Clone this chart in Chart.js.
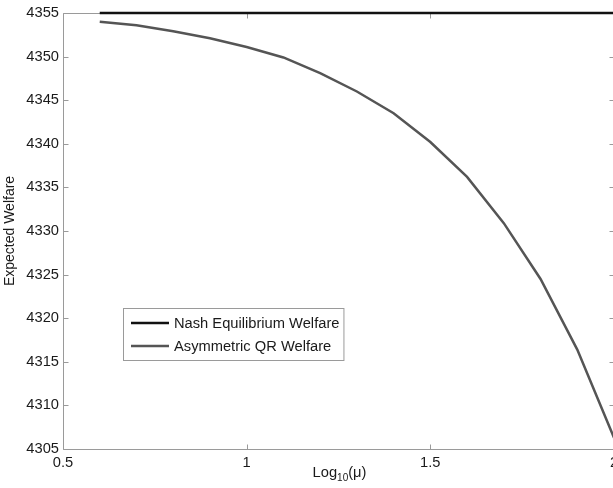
<!DOCTYPE html>
<html><head><meta charset="utf-8">
<script src="https://cdn.jsdelivr.net/npm/chart.js@4"></script>
<style>
html,body{margin:0;padding:0;background:#fff;overflow:hidden;width:613px;height:488px}
#wrap{position:relative;width:640px;height:488px}
canvas{display:block}
</style></head>
<body><div id="wrap"><canvas id="c" width="640" height="488"></canvas></div>
<script>
const logMu = [0.6, 0.7, 0.8, 0.9, 1.0, 1.1, 1.2, 1.3, 1.4, 1.5, 1.6, 1.7, 1.8, 1.9, 2.0];
const qrWelfare = [4354.0, 4353.6, 4352.9, 4352.1, 4351.1, 4349.9, 4348.1, 4346.0, 4343.5, 4340.2, 4336.2, 4330.9, 4324.5, 4316.4, 4306.3];
const nashX = [0.6, 2.0];
const nashWelfare = [4355, 4355];
const xTicks = [0.5, 1, 1.5, 2];
const yTicks = [4305, 4310, 4315, 4320, 4325, 4330, 4335, 4340, 4345, 4350, 4355];
const seriesLabels = ['Nash Equilibrium Welfare', 'Asymmetric QR Welfare'];
const yTitle = 'Expected Welfare';

const FONT = '"Liberation Sans", Arial, Helvetica, sans-serif';
const FS = 14.7;
const AXIS = '#9a9a9a';
const TEXT = '#1a1a1a';

const framePlugin = {
  id: 'frame',
  beforeDatasetsDraw(chart) {
    const {ctx, chartArea: a, scales: {x, y}} = chart;
    ctx.save();
    ctx.strokeStyle = AXIS;
    ctx.lineWidth = 1;
    const L = Math.round(a.left) + 0.5, R = Math.round(a.right) + 0.5;
    const T = Math.round(a.top) + 0.5, B = Math.round(a.bottom) + 0.5;
    ctx.beginPath();
    ctx.moveTo(L, T); ctx.lineTo(R, T); ctx.lineTo(R, B); ctx.lineTo(L, B); ctx.closePath();
    const tl = 5;
    yTicks.forEach(v => {
      const py = Math.round(y.getPixelForValue(v)) + 0.5;
      ctx.moveTo(L, py); ctx.lineTo(L + tl, py);
      ctx.moveTo(R, py); ctx.lineTo(R - tl, py);
    });
    xTicks.forEach(v => {
      const px = Math.round(x.getPixelForValue(v)) + 0.5;
      ctx.moveTo(px, B); ctx.lineTo(px, B - tl);
      ctx.moveTo(px, T); ctx.lineTo(px, T + tl);
    });
    ctx.stroke();
    ctx.restore();
  },
  afterDraw(chart) {
    const {ctx, chartArea: a} = chart;
    ctx.save();
    // x axis title with subscript
    const cx = (a.left + a.right) / 2 + 1;
    const base = 477;
    ctx.fillStyle = TEXT;
    ctx.textBaseline = 'alphabetic';
    ctx.font = FS + 'px ' + FONT;
    const w1 = ctx.measureText('Log').width;
    const w3 = ctx.measureText('(\u03bc)').width;
    ctx.font = '10px ' + FONT;
    const w2 = ctx.measureText('10').width;
    let sx = cx - (w1 + w2 + w3) / 2;
    ctx.font = FS + 'px ' + FONT;
    ctx.fillText('Log', sx, base); sx += w1;
    ctx.font = '10px ' + FONT;
    ctx.fillText('10', sx, base + 4); sx += w2;
    ctx.font = FS + 'px ' + FONT;
    ctx.fillText('(\u03bc)', sx, base);

    // legend
    const ds = chart.data.datasets;
    ctx.font = FS + 'px ' + FONT;
    let maxW = 0;
    ds.forEach(d => { maxW = Math.max(maxW, ctx.measureText(d.label).width); });
    const bx = 123.5, by = 308.5, bh = 52;
    const bw = (174 - 123) + maxW + 4;
    ctx.fillStyle = '#fff';
    ctx.fillRect(bx, by, bw, bh);
    ctx.strokeStyle = AXIS;
    ctx.lineWidth = 1;
    ctx.strokeRect(bx, by, bw, bh);
    const rows = [323, 346];
    ds.forEach((d, i) => {
      ctx.strokeStyle = d.borderColor;
      ctx.lineWidth = d.borderWidth;
      ctx.beginPath();
      ctx.moveTo(131, rows[i]); ctx.lineTo(169, rows[i]);
      ctx.stroke();
      ctx.fillStyle = TEXT;
      ctx.textBaseline = 'middle';
      ctx.fillText(d.label, 174, rows[i] + 1);
    });
    ctx.restore();
  }
};

new Chart(document.getElementById('c'), {
  type: 'line',
  data: {
    datasets: [
      {
        label: seriesLabels[0],
        data: nashX.map((v, i) => ({x: v, y: nashWelfare[i]})),
        borderColor: '#111111',
        borderWidth: 2.5,
        pointRadius: 0,
        tension: 0,
        clip: false
      },
      {
        label: seriesLabels[1],
        data: logMu.map((v, i) => ({x: v, y: qrWelfare[i]})),
        borderColor: '#555555',
        borderWidth: 2.5,
        pointRadius: 0,
        tension: 0,
        clip: false
      }
    ]
  },
  options: {
    responsive: false,
    animation: false,
    devicePixelRatio: 1,
    layout: {padding: {top: 13, right: 26, left: 0, bottom: 0}},
    plugins: {legend: {display: false}, tooltip: {enabled: false}},
    scales: {
      x: {
        type: 'linear',
        min: 0.5, max: 2,
        grid: {display: false, drawTicks: false},
        border: {display: false},
        afterBuildTicks: s => { s.ticks = xTicks.map(v => ({value: v})); },
        afterFit: s => { s.height = 39; },
        ticks: {
          color: TEXT, padding: 5, maxRotation: 0, autoSkip: false,
          font: {family: FONT, size: FS},
          callback: v => String(v)
        },
        title: {display: false}
      },
      y: {
        type: 'linear',
        min: 4305, max: 4355,
        grid: {display: false, drawTicks: false},
        border: {display: false},
        afterBuildTicks: s => { s.ticks = yTicks.map(v => ({value: v})); },
        afterFit: s => { s.width = 63; },
        ticks: {
          color: TEXT, padding: 4, autoSkip: false,
          font: {family: FONT, size: FS},
          callback: v => String(v)
        },
        title: {
          display: true, text: yTitle, color: TEXT,
          font: {family: FONT, size: 14},
          padding: {top: 2, bottom: 0}
        }
      }
    }
  },
  plugins: [framePlugin]
});
</script>
</body></html>
